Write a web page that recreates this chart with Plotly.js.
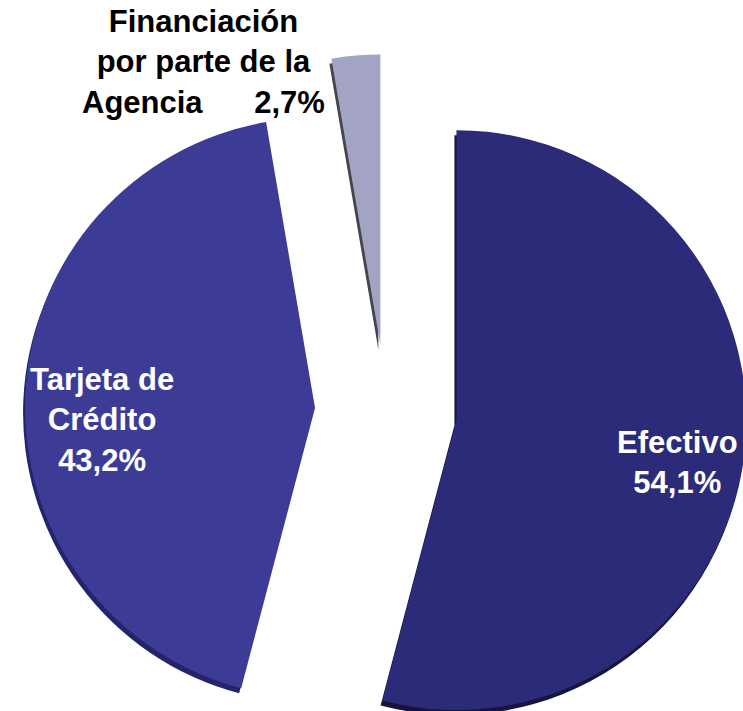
<!DOCTYPE html>
<html>
<head>
<meta charset="utf-8">
<script src="https://cdn.plot.ly/plotly-3.0.1.min.js"></script>
<style>
  html, body { margin: 0; padding: 0; overflow: hidden; background: #ffffff; }
  #chart { width: 780px; height: 830px; }
</style>
</head>
<body>
<div id="chart"></div>
<script>
// ---- Data ----
const categories = ["Efectivo", "Tarjeta de Crédito", "Financiación por parte de la Agencia"];
const values = [54.1, 43.2, 2.7];
const labelLines = ["Efectivo", "Tarjeta de<br>Crédito", "Financiación<br>por parte de la<br>Agencia"];

// ---- Styles ----
const faceColors = ["#2B2B7A", "#3C3C97", "#A3A3C3"];
const sideColors = ["#15153F", "#24246A", "#45454F"];
const pulls = [0.245, 0.245, 0.23];

const W = 780, H = 830;
const fmt = v => v.toFixed(1).replace('.', ',') + '%';

const dom = { x: [25 / W, 747 / W], y: [(H - 772) / H, (H - 50) / H] };
const dx = -2 / W, dy = -5 / H;

const shadow = {
  type: 'pie', labels: categories, values: values, sort: false,
  direction: 'clockwise', rotation: 0, pull: pulls,
  marker: { colors: sideColors, line: { width: 0 } },
  textinfo: 'none', hoverinfo: 'skip', showlegend: false,
  domain: { x: [dom.x[0] + dx, dom.x[1] + dx], y: [dom.y[0] + dy, dom.y[1] + dy] }
};
const face = {
  type: 'pie', labels: categories, values: values, sort: false,
  direction: 'clockwise', rotation: 0, pull: pulls,
  marker: { colors: faceColors, line: { width: 0 } },
  textinfo: 'none', showlegend: false,
  domain: dom
};

const font = { family: 'Liberation Sans, Arial, sans-serif', size: 31 };
const labelPos = [[677, 462, '#ffffff'], [102, 420, '#ffffff'], [203, 62, '#000000']];
const gap = '\u00A0\u00A0\u00A0\u00A0\u00A0\u00A0';
const annotations = categories.map((c, i) => {
  const txt = i === 2 ? '<b>' + labelLines[i] + gap + fmt(values[i]) + '</b>'
                      : '<b>' + labelLines[i] + '<br>' + fmt(values[i]) + '</b>';
  return {
    xref: 'paper', yref: 'paper',
    x: labelPos[i][0] / W, y: 1 - labelPos[i][1] / H,
    xanchor: 'center', yanchor: 'middle', align: 'center',
    showarrow: false, text: txt,
    font: Object.assign({}, font, { color: labelPos[i][2] })
  };
});

Plotly.newPlot('chart', [shadow, face], {
  width: W, height: H,
  margin: { l: 0, r: 0, t: 0, b: 0 },
  paper_bgcolor: '#ffffff',
  showlegend: false,
  annotations: annotations
}, { displayModeBar: false, staticPlot: true });
</script>
</body>
</html>
